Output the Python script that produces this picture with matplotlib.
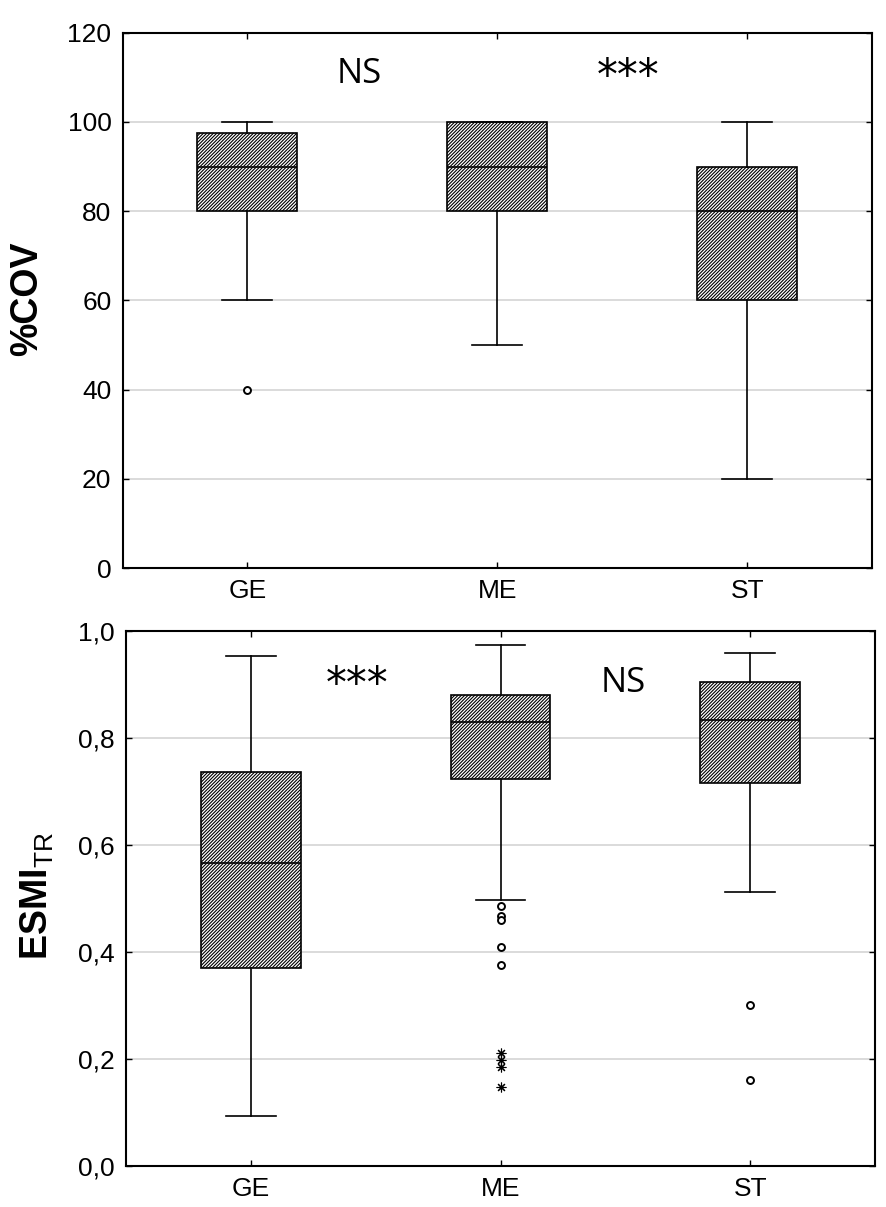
import matplotlib
matplotlib.use('Agg')
import matplotlib.pyplot as plt

plt.rcParams['font.family'] = ['Liberation Sans', 'DejaVu Sans']
plt.rcParams['mathtext.fontset'] = 'custom'
plt.rcParams['mathtext.rm'] = 'Liberation Sans'
plt.rcParams['mathtext.bf'] = 'Liberation Sans:bold'
plt.rcParams['hatch.linewidth'] = 0.8

groups = ['GE', 'ME', 'ST']

# %COV panel
cov_whislo = [60, 50, 20]
cov_q1 = [80, 80, 60]
cov_med = [90, 90, 80]
cov_q3 = [97.5, 100, 90]
cov_whishi = [100, 100, 100]
cov_outliers = [[40], [], []]
cov_ticks = [0, 20, 40, 60, 80, 100, 120]
cov_ticklabels = ['0', '20', '40', '60', '80', '100', '120']

# ESMI_TR panel
esmi_whislo = [0.094, 0.498, 0.512]
esmi_q1 = [0.370, 0.723, 0.715]
esmi_med = [0.567, 0.829, 0.833]
esmi_q3 = [0.737, 0.881, 0.904]
esmi_whishi = [0.953, 0.974, 0.959]
esmi_outliers = [[], [0.485, 0.468, 0.460, 0.410, 0.376], [0.300, 0.161]]
esmi_extremes = [[], [0.211, 0.198, 0.185, 0.148], []]
esmi_ticks = [0.0, 0.2, 0.4, 0.6, 0.8, 1.0]
esmi_ticklabels = ['0,0', '0,2', '0,4', '0,6', '0,8', '1,0']


def make_stats(lo, q1, med, q3, hi, fl):
    stats = []
    for i in range(len(lo)):
        stats.append({'whislo': lo[i], 'q1': q1[i], 'med': med[i],
                      'q3': q3[i], 'whishi': hi[i], 'fliers': fl[i]})
    return stats


def draw_panel(ax, stats, ticks, ticklabels, ylim):
    positions = list(range(1, len(groups) + 1))
    lw = 1.2
    ax.bxp(stats, positions=positions, widths=0.4, capwidths=0.2,
           patch_artist=True, manage_ticks=False,
           boxprops=dict(facecolor='white', edgecolor='black',
                         hatch='//////////', linewidth=lw),
           medianprops=dict(color='black', linewidth=lw),
           whiskerprops=dict(color='black', linewidth=lw),
           capprops=dict(color='black', linewidth=lw),
           flierprops=dict(marker='o', markersize=5, markerfacecolor='white',
                           markeredgecolor='black', markeredgewidth=1.4))
    ax.set_xlim(0.5, len(groups) + 0.5)
    ax.set_ylim(*ylim)
    ax.set_xticks(positions)
    ax.set_xticklabels(groups)
    ax.set_yticks(ticks)
    ax.set_yticklabels(ticklabels)
    ax.set_axisbelow(True)
    ax.grid(axis='y', color='#d4d4d4', linewidth=1.2)
    ax.tick_params(direction='in', top=True, right=True, length=4,
                   width=1, labelsize=19)
    ax.tick_params(axis='y', pad=8)
    ax.tick_params(axis='x', pad=8)
    for s in ax.spines.values():
        s.set_linewidth(1.5)


fig = plt.figure(figsize=(8.86, 12.07), dpi=100)

ax1 = fig.add_axes([0.1383, 0.5292, 0.846, 0.4437])
draw_panel(ax1, make_stats(cov_whislo, cov_q1, cov_med, cov_q3, cov_whishi, cov_outliers),
           cov_ticks, cov_ticklabels, (0, 120))
ax1.text(1.446, 108.7, 'NS', family=['Open Sans', 'DejaVu Sans'], fontsize=25,
         ha='center', va='baseline')
ax1.text(2.522, 107.3, '***', family='DejaVu Sans', fontsize=30,
         ha='center', va='baseline')

ax2 = fig.add_axes([0.1422, 0.034, 0.8454, 0.4433])
draw_panel(ax2, make_stats(esmi_whislo, esmi_q1, esmi_med, esmi_q3, esmi_whishi, esmi_outliers),
           esmi_ticks, esmi_ticklabels, (0, 1.0))
for i, ext in enumerate(esmi_extremes):
    if ext:
        ax2.plot([i + 1] * len(ext), ext, linestyle='none', marker=(8, 2, 0),
                 markersize=7, color='black', markeredgewidth=0.8)
ax2.text(1.425, 0.876, '***', family='DejaVu Sans', fontsize=30,
         ha='center', va='baseline')
ax2.text(2.49, 0.886, 'NS', family=['Open Sans', 'DejaVu Sans'], fontsize=25,
         ha='center', va='baseline')

fig.text(27 / 886, 1 - 299 / 1207, '%COV', rotation=90, fontsize=27,
         fontweight='bold', ha='center', va='center')
fig.text(37.5 / 886, 1 - 896 / 1207, r'$\mathbf{ESMI}_{\mathrm{TR}}$', rotation=90,
         fontsize=27, ha='center', va='center')

fig.savefig('out.png', dpi=100)
